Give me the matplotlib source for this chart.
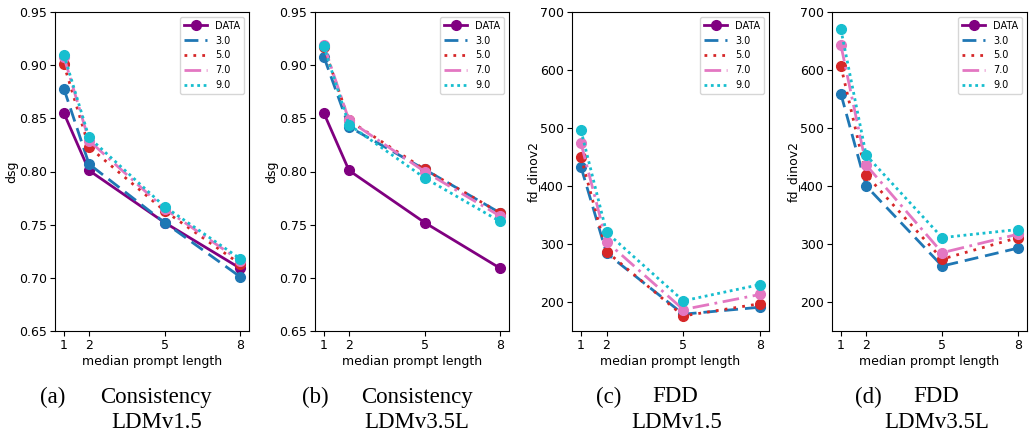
import matplotlib
matplotlib.use("Agg")
import matplotlib.pyplot as plt
import numpy as np

# median prompt length
x_vals = [1, 2, 5, 8]
guidance = ["3.0", "5.0", "7.0", "9.0"]

# dsg consistency
dsg_data = [0.855, 0.801, 0.752, 0.709]
dsg_v15 = {
    "3.0": [0.878, 0.807, 0.752, 0.701],
    "5.0": [0.901, 0.823, 0.763, 0.713],
    "7.0": [0.908, 0.829, 0.765, 0.716],
    "9.0": [0.910, 0.832, 0.767, 0.718],
}
dsg_v35 = {
    "3.0": [0.908, 0.842, 0.802, 0.761],
    "5.0": [0.917, 0.848, 0.802, 0.761],
    "7.0": [0.919, 0.848, 0.800, 0.758],
    "9.0": [0.918, 0.844, 0.794, 0.753],
}

# fd_dinov2 (DATA vs itself is 0, below the visible range)
fdd_data = [0, 0, 0, 0]
fdd_v15 = {
    "3.0": [433, 284, 179, 191],
    "5.0": [450, 287, 176, 197],
    "7.0": [474, 304, 187, 213],
    "9.0": [496, 320, 202, 230],
}
fdd_v35 = {
    "3.0": [559, 400, 262, 293],
    "5.0": [607, 419, 274, 311],
    "7.0": [643, 436, 285, 317],
    "9.0": [670, 453, 311, 325],
}

styles = {
    "3.0": ("#1f77b4", (0, (5, 2.5))),
    "5.0": ("#d62728", (0, (1, 2.2))),
    "7.0": ("#e377c2", (0, (6, 2, 1, 2))),
    "9.0": ("#17becf", (0, (1, 1.3))),
}

panels = [
    (dsg_data, dsg_v15, "dsg", (0.65, 0.95), "(a)", "Consistency", "LDMv1.5"),
    (dsg_data, dsg_v35, "dsg", (0.65, 0.95), "(b)", "Consistency", "LDMv3.5L"),
    (fdd_data, fdd_v15, "fd_dinov2", (150, 700), "(c)", "FDD", "LDMv1.5"),
    (fdd_data, fdd_v35, "fd_dinov2", (150, 700), "(d)", "FDD", "LDMv3.5L"),
]

W, H = 1029, 433
fig = plt.figure(figsize=(W / 100, H / 100), dpi=100)
boxes = [(55, 249), (315, 509), (572, 769), (832, 1027)]
cap_x = [(53, 156, 157), (315, 417, 417), (609, 675, 677), (868, 936, 937)]

for i, (dat, series, ylab, ylim, tag, name, model) in enumerate(panels):
    l, r = boxes[i]
    ax = fig.add_axes([l / W, 1 - 331 / H, (r - l) / W, 319 / H])
    ax.plot(x_vals, dat, color="purple", marker="o", markersize=7, lw=2, label="DATA")
    for g in guidance:
        c, ls = styles[g]
        ax.plot(x_vals, series[g], color=c, linestyle=ls, lw=2, label=g)
        ax.plot(x_vals, series[g], color=c, linestyle="none", marker="o", markersize=7)
    ax.set_ylim(*ylim)
    ax.set_xticks(x_vals)
    if ylim[1] < 1:
        ax.set_yticks(np.arange(0.65, 0.951, 0.05))
        ax.yaxis.set_major_formatter(matplotlib.ticker.FormatStrFormatter("%.2f"))
    else:
        ax.set_yticks(range(200, 701, 100))
    ax.tick_params(labelsize=9, pad=2.5)
    ax.set_xlabel("median prompt length", fontsize=9, labelpad=2)
    ax.set_ylabel(ylab, fontsize=9, labelpad=0)
    ax.legend(loc="upper right", fontsize=7, handlelength=2.4)

    tx, nx, mx = cap_x[i]
    serif = dict(family="Liberation Serif", fontsize=16.5, ha="center", va="center")
    fig.text(tx / W, 1 - 397 / H, tag, **serif)
    fig.text(nx / W, 1 - 397 / H, name, **serif)
    fig.text(mx / W, 1 - 422 / H, model, **serif)

fig.savefig("out.png", dpi=100)
